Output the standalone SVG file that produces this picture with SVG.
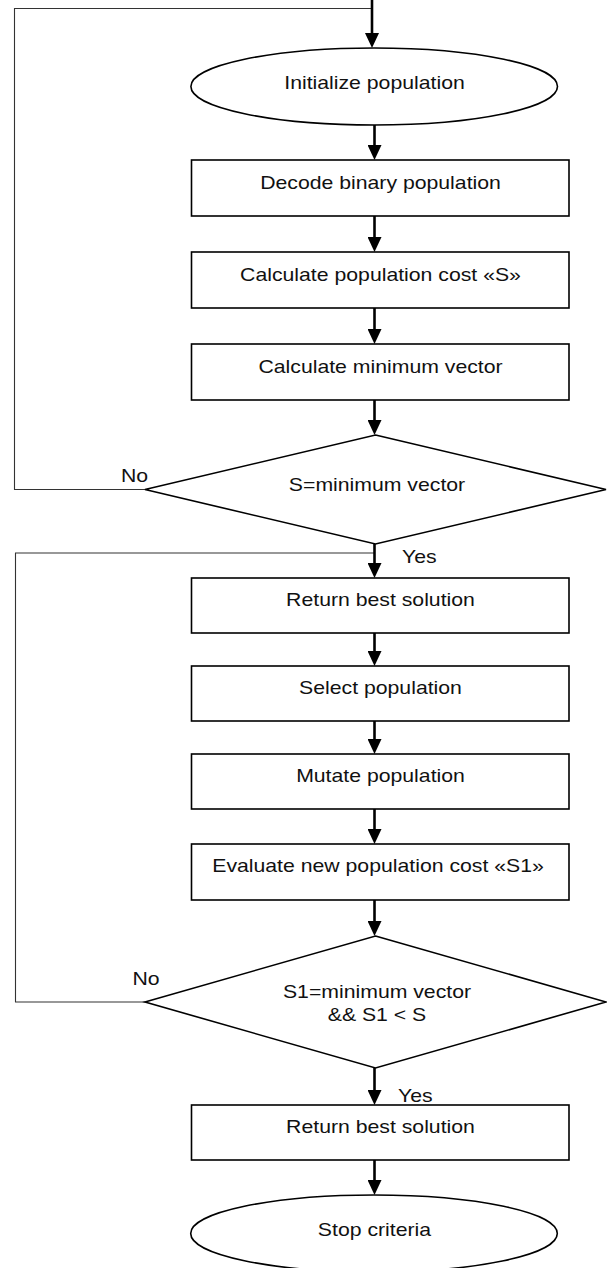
<svg xmlns="http://www.w3.org/2000/svg" width="607" height="1268" viewBox="0 0 607 1268">
<defs>
<style>
.box{fill:#fff;stroke:#000;stroke-width:1.6}
.loop{fill:none;stroke:#333;stroke-width:1.1}
.arr{fill:none;stroke:#000;stroke-width:2.6}
.t{font-family:"Liberation Sans",Arial,sans-serif;font-size:18px;fill:#111;text-anchor:middle}
.l{font-family:"Liberation Sans",Arial,sans-serif;font-size:18px;fill:#111}
</style>
<marker id="ah" viewBox="0 0 15 14" refX="3" refY="7" markerWidth="15" markerHeight="14" orient="auto" markerUnits="userSpaceOnUse">
<path d="M0,0 L15,7 L0,14 z" fill="#000"/>
</marker>
</defs>
<rect width="607" height="1268" fill="#fff"/>

<g id="connectors">
<polyline class="loop" points="145,489.5 14.5,489.5 14.5,8.5 372,8.5"/>
<polyline class="loop" points="145,1002 15.5,1002 15.5,553 374.5,553"/>
<line class="arr" x1="372" y1="0" x2="372" y2="36" marker-end="url(#ah)"/>
<line class="arr" x1="374.5" y1="125" x2="374.5" y2="148" marker-end="url(#ah)"/>
<line class="arr" x1="374.5" y1="216" x2="374.5" y2="240" marker-end="url(#ah)"/>
<line class="arr" x1="374.5" y1="308" x2="374.5" y2="332" marker-end="url(#ah)"/>
<line class="arr" x1="374.5" y1="400" x2="374.5" y2="423" marker-end="url(#ah)"/>
<line class="arr" x1="374.5" y1="544" x2="374.5" y2="566" marker-end="url(#ah)"/>
<line class="arr" x1="374.5" y1="633" x2="374.5" y2="654" marker-end="url(#ah)"/>
<line class="arr" x1="374.5" y1="721" x2="374.5" y2="742" marker-end="url(#ah)"/>
<line class="arr" x1="374.5" y1="809" x2="374.5" y2="832" marker-end="url(#ah)"/>
<line class="arr" x1="374.5" y1="900" x2="374.5" y2="924" marker-end="url(#ah)"/>
<line class="arr" x1="374.5" y1="1068" x2="374.5" y2="1093" marker-end="url(#ah)"/>
<line class="arr" x1="374.5" y1="1160" x2="374.5" y2="1183" marker-end="url(#ah)"/>
<text class="l" transform="translate(121,482) scale(1.18,1)">No</text>
<text class="l" transform="translate(132.5,985) scale(1.18,1)">No</text>
<text class="l" transform="translate(402,563) scale(1.18,1)">Yes</text>
<text class="l" transform="translate(398,1102) scale(1.18,1)">Yes</text>
</g>

<g id="n_init">
<ellipse class="box" cx="374.2" cy="86.5" rx="183.3" ry="38.5"/>
<text class="t" transform="translate(374.5,89) scale(1.18,1)">Initialize population</text>
</g>
<g id="n_decode">
<rect class="box" x="191.5" y="160" width="377.5" height="56"/>
<text class="t" transform="translate(380.5,189) scale(1.18,1)">Decode binary population</text>
</g>
<g id="n_cost">
<rect class="box" x="191.5" y="252" width="377.5" height="56"/>
<text class="t" transform="translate(380.5,281) scale(1.18,1)">Calculate population cost «S»</text>
</g>
<g id="n_minvec">
<rect class="box" x="191.5" y="344" width="377.5" height="56"/>
<text class="t" transform="translate(380.5,373) scale(1.18,1)">Calculate minimum vector</text>
</g>
<g id="n_dec1">
<polygon class="box" points="375.5,435 606,489.5 375.5,544 145,489.5"/>
<text class="t" transform="translate(377,491) scale(1.18,1)">S=minimum vector</text>
</g>
<g id="n_best1">
<rect class="box" x="191.5" y="578" width="377.5" height="55"/>
<text class="t" transform="translate(380.5,606) scale(1.18,1)">Return best solution</text>
</g>
<g id="n_select">
<rect class="box" x="191.5" y="666" width="377.5" height="55"/>
<text class="t" transform="translate(380.5,694) scale(1.18,1)">Select population</text>
</g>
<g id="n_mutate">
<rect class="box" x="191.5" y="754" width="377.5" height="55"/>
<text class="t" transform="translate(380.5,782) scale(1.18,1)">Mutate population</text>
</g>
<g id="n_eval">
<rect class="box" x="191.5" y="844" width="377.5" height="56"/>
<text class="t" transform="translate(378,872) scale(1.18,1)">Evaluate new population cost «S1»</text>
</g>
<g id="n_dec2">
<polygon class="box" points="375.5,936 606,1002 375.5,1068 145,1002"/>
<text class="t" transform="translate(377,997.5) scale(1.18,1)">S1=minimum vector</text>
<text class="t" transform="translate(377,1021) scale(1.18,1)">&amp;&amp; S1 &lt; S</text>
</g>
<g id="n_best2">
<rect class="box" x="191.5" y="1105" width="377.5" height="55"/>
<text class="t" transform="translate(380.5,1133) scale(1.18,1)">Return best solution</text>
</g>
<g id="n_stop">
<ellipse class="box" cx="374" cy="1233.5" rx="183.3" ry="38.5"/>
<text class="t" transform="translate(374.5,1235.5) scale(1.18,1)">Stop criteria</text>
</g>
</svg>
